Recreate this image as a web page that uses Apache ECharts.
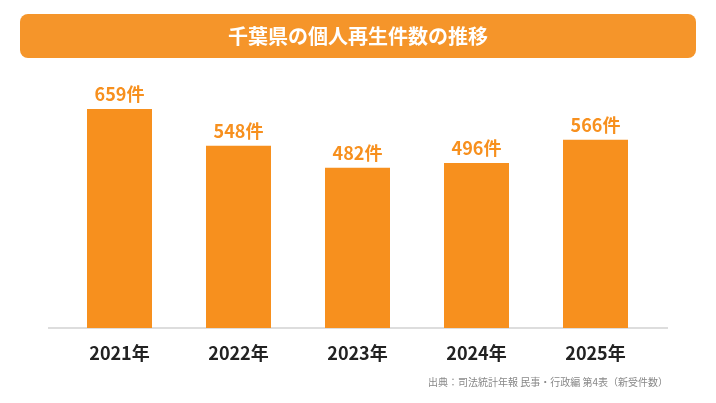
<!DOCTYPE html>
<html><head><meta charset="utf-8">
<script src="https://cdn.jsdelivr.net/npm/echarts@6/dist/echarts.min.js"></script>
<style>html,body{margin:0;padding:0;background:#fff}#c{width:716px;height:403px}</style>
</head><body><div id="c"></div>
<script>
const categories = ['2021年','2022年','2023年','2024年','2025年'];
const values = [659, 548, 482, 496, 566];
const titleText = '千葉県の個人再生件数の推移';
const sourceText = '出典：司法統計年報 民事・行政編 第4表（新受件数）';
const orange = '#F7901E';
const chart = echarts.init(document.getElementById('c'));
chart.setOption({
  backgroundColor:'#fff',
  graphic:[
    {type:'rect',shape:{x:20,y:14,width:676,height:44,r:8},style:{fill:'#F5952A'}},
    {type:'text',x:358,y:36,style:{text:titleText,fill:'#fff',font:'bold 20px "Noto Sans CJK JP"',textAlign:'center',textVerticalAlign:'middle'}},
    {type:'line',shape:{x1:48,y1:328,x2:668,y2:328},style:{stroke:'#bbb',lineWidth:1}},
    {type:'text',x:668,y:382,style:{text:sourceText,fill:'#888',font:'10px "Noto Sans CJK JP"',textAlign:'right',textVerticalAlign:'middle'}}
  ],
  grid:{left:60,right:61,top:62,bottom:75},
  xAxis:{type:'category',data:categories,axisLine:{show:false},axisTick:{show:false},
    axisLabel:{margin:16,color:'#222',fontSize:18,fontWeight:'bold',fontFamily:'Noto Sans CJK JP'}},
  yAxis:{type:'value',min:0,max:800,show:false,splitLine:{show:false}},
  series:[{type:'bar',data:values,barWidth:65,itemStyle:{color:orange},
    label:{show:true,position:'top',distance:6,formatter:p=>p.value+'件',color:orange,fontSize:18,fontWeight:'bold',fontFamily:'Noto Sans CJK JP'}}]
});
</script></body></html>
